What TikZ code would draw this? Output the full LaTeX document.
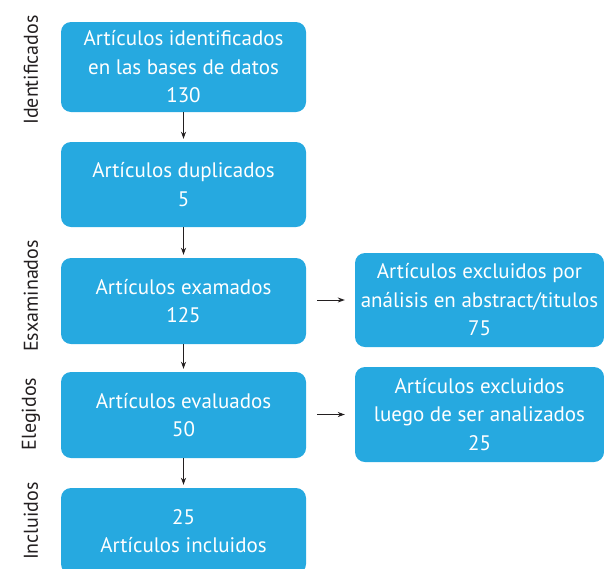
\documentclass[tikz,border=0pt]{standalone}
\usepackage{fontspec}
\setmainfont{PT Sans}
\usetikzlibrary{arrows.meta}

\definecolor{boxblue}{RGB}{38,169,224}
\definecolor{linegray}{RGB}{35,31,32}

\tikzset{
  box/.style={draw=none, fill=boxblue, rounded corners=10pt, text=white,
    align=center, inner sep=0pt, font=\fontsize{21}{28.5}\selectfont},
  sidelabel/.style={rotate=90, text=linegray, inner sep=0pt,
    font=\fontsize{20}{24}\selectfont},
  flow/.style={-{Stealth[length=7pt,width=5pt]}, linegray, line width=1pt}
}

\begin{document}
\begin{tikzpicture}[x=1pt,y=-1pt]
  \useasboundingbox (0,0) rectangle (604,568);

  % Stage labels
  \node[sidelabel] (lid) at (31,70) {Identificados};
  \node[sidelabel] (lex) at (31,296) {Esxaminados};
  \node[sidelabel] (lel) at (31,414) {Elegidos};
  \node[sidelabel] (lin) at (31,521) {Incluidos};

  % Main column
  \node[box, minimum width=245, minimum height=90] (ident) at (183.5,67)
    {Artículos identificados\\en las bases de datos\\130};
  \node[box, minimum width=245, minimum height=85] (dupl) at (183.5,184.5)
    {Artículos duplicados\\5};
  \node[box, minimum width=245, minimum height=86] (exam) at (183.5,301)
    {Artículos examados\\125};
  \node[box, minimum width=245, minimum height=86] (eval) at (183.5,415)
    {Artículos evaluados\\50};
  \node[box, minimum width=245, minimum height=86] (incl) at (183.5,531)
    {25\\Artículos incluidos};

  % Excluded column
  \node[box, minimum width=249, minimum height=94] (excl1) at (479.5,300)
    {Artículos excluidos por\\análisis en abstract/titulos\\75};
  \node[box, minimum width=249, minimum height=95] (excl2) at (479.5,414.5)
    {Artículos excluidos\\luego de ser analizados\\25};

  % Arrows
  \draw[flow, shorten >=3pt] (ident) -- (dupl);
  \draw[flow, shorten >=3pt] (dupl) -- (exam);
  \draw[flow, shorten >=3pt] (exam) -- (eval);
  \draw[flow, shorten >=3pt] (eval) -- (incl);
  \draw[flow, shorten <=11pt, shorten >=10pt] (exam.east |- excl1) -- (excl1);
  \draw[flow, shorten <=11pt, shorten >=10pt] (eval.east |- excl2) -- (excl2);
\end{tikzpicture}
\end{document}
